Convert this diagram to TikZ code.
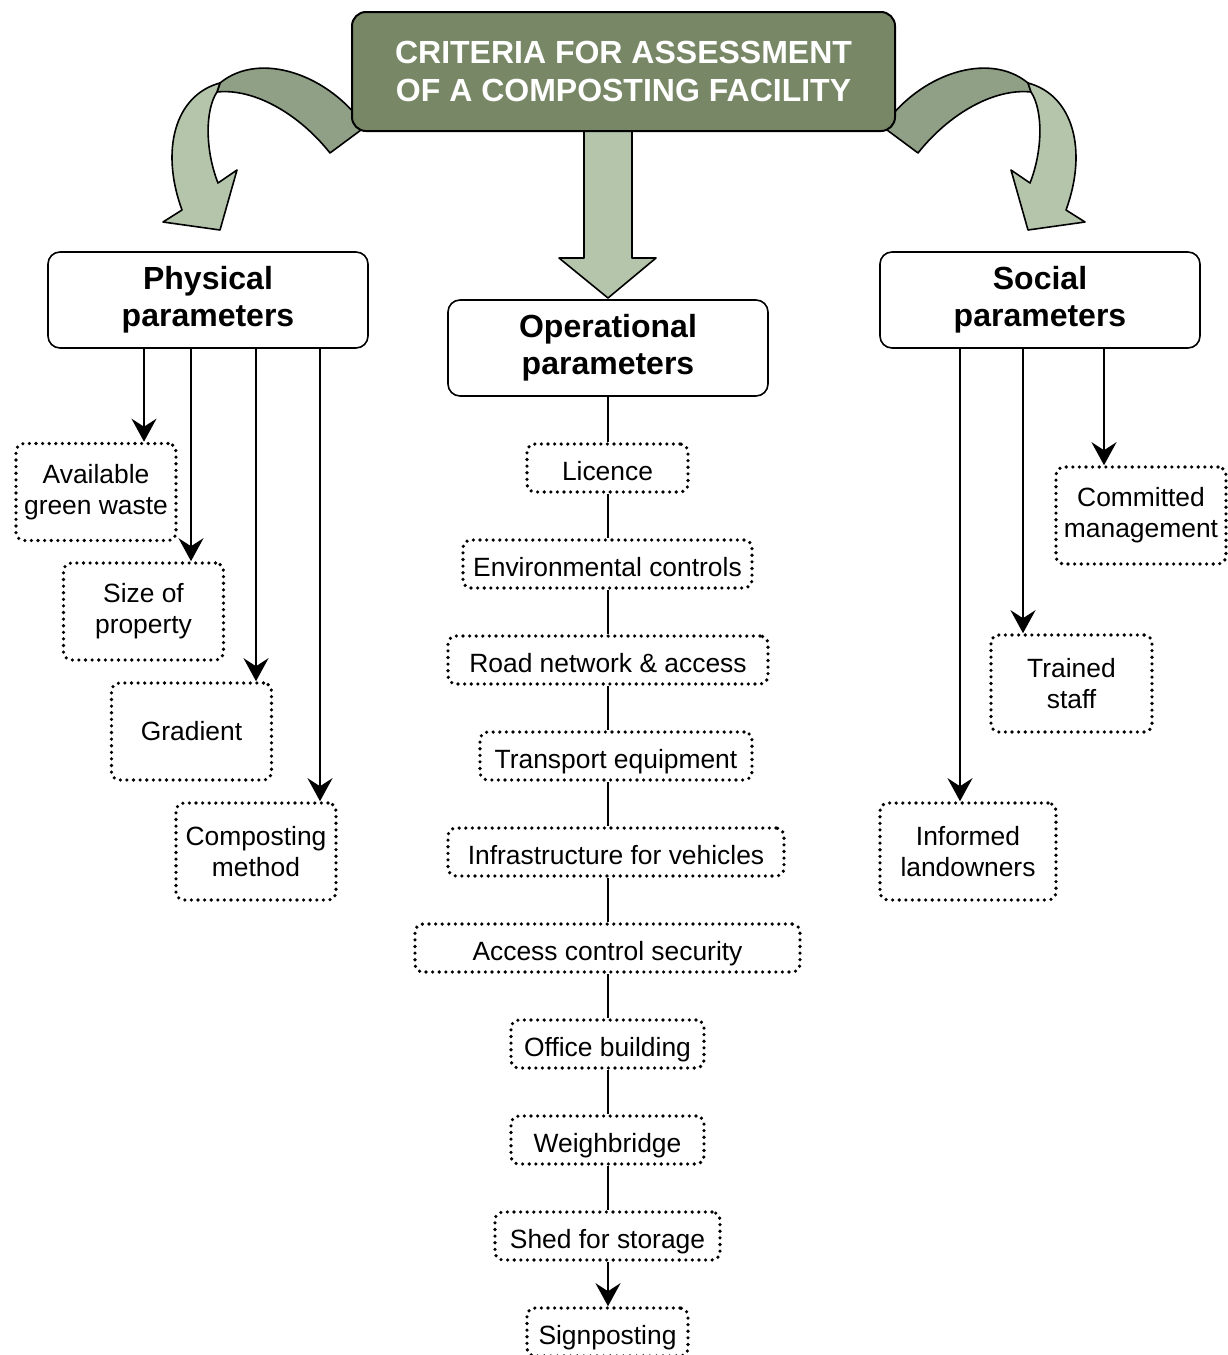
\documentclass[tikz,border=0pt]{standalone}
\usepackage{fontspec}
\setmainfont{Liberation Sans}
\usetikzlibrary{arrows.meta}
\definecolor{titlegreen}{RGB}{120,136,103}
\definecolor{darkband}{RGB}{143,160,134}
\definecolor{lightband}{RGB}{180,197,171}
\tikzset{
  titlebox/.style={draw, line width=1pt, fill=titlegreen, rounded corners=7pt, text=white,
    font=\bfseries\fontsize{16}{19}\selectfont, align=center, inner sep=0pt,
    minimum width=271.5pt, minimum height=59.5pt},
  headbox/.style={draw, line width=0.8pt, fill=white, rounded corners=6pt,
    font=\bfseries\fontsize{16}{18.5}\selectfont, align=center, inner sep=0pt,
    minimum width=160pt, minimum height=48pt},
  itembox/.style={draw, line width=1.8pt, line cap=round, dash pattern=on 0pt off 3.3pt,
    rounded corners=4pt, font=\fontsize{13.2}{15.5}\selectfont, align=center, inner sep=0pt,
    minimum height=48.5pt},
  opbox/.style={itembox, minimum height=24pt, text height=12.5pt, text depth=0pt},
  arr/.style={line width=1pt, -{Stealth[length=11.5pt, width=12.5pt, inset=4pt]}},
  link/.style={line width=1pt},
  bandline/.style={draw=black, line width=0.8pt, line join=round}
}
\newcommand{\curvedarrow}{%
  \path[bandline, fill=darkband] (365,127) .. controls (330,75) and (260,50) .. (220,83)
     -- (217,92) .. controls (255,88) and (300,115) .. (330,153) -- cycle;
  \path[bandline, fill=lightband] (220,83) .. controls (175,95) and (160,150) .. (182,210)
     -- (163,222) -- (220,230) -- (237,170) -- (218,183)
     .. controls (205,150) and (205,110) .. (217,92) -- cycle;
}
\begin{document}
\begin{tikzpicture}[x=0.5pt, y=-0.5pt]
\useasboundingbox (0,0) rectangle (1227,1355);
% curved arrows
\curvedarrow
\begin{scope}[xshift=624pt, xscale=-1]
\curvedarrow
\end{scope}
% central big arrow
\path[bandline, fill=lightband] (584,125) -- (584,258) -- (559,258) -- (608,298) -- (656,258) -- (632,258) -- (632,125) -- cycle;
% title
\node[titlebox] (title) at (623.5,71.5) {CRITERIA FOR ASSESSMENT\\OF A COMPOSTING FACILITY};
% heads
\node[headbox] (phys) at (208,300) {Physical\\parameters};
\node[headbox] (ops) at (608,348) {Operational\\parameters};
\node[headbox] (soc) at (1040,300) {Social\\parameters};
% physical items
\node[itembox, minimum width=80pt] (avail) at (96,492) {Available\\green waste};
\node[itembox, minimum width=80pt] (size) at (143.5,611.5) {Size of\\property};
\node[itembox, minimum width=80pt] (grad) at (191.5,731.5) {Gradient};
\node[itembox, minimum width=80pt] (comp) at (256,851.5) {Composting\\method};
% social items
\node[itembox, minimum width=85pt] (commit) at (1141,515.5) {Committed\\management};
\node[itembox, minimum width=80.5pt] (trained) at (1071.5,683.5) {Trained\\staff};
\node[itembox, minimum width=88pt] (informed) at (968,851.5) {Informed\\landowners};
% operational items
\node[opbox, minimum width=80.5pt] (lic) at (607.5,468) {Licence};
\node[opbox, minimum width=144.5pt] (env) at (607.5,564) {Environmental controls};
\node[opbox, minimum width=160pt] (road) at (608,660) {Road network \& access};
\node[opbox, minimum width=136pt] (trans) at (616,756) {Transport equipment};
\node[opbox, minimum width=168pt] (infra) at (616,852) {Infrastructure for vehicles};
\node[opbox, minimum width=192.5pt] (acc) at (607.5,948) {Access control security};
\node[opbox, minimum width=96.5pt] (office) at (607.5,1044) {Office building};
\node[opbox, minimum width=96.5pt] (weigh) at (607.5,1140) {Weighbridge};
\node[opbox, minimum width=112.5pt] (shed) at (607.5,1236) {Shed for storage};
\node[opbox, minimum width=80.5pt] (sign) at (607.5,1332) {Signposting};
% operational chain
\draw[link] (ops.south) -- (lic.north -| ops.south);
\draw[link] (lic.south -| ops.south) -- (env.north -| ops.south);
\draw[link] (env.south -| ops.south) -- (road.north -| ops.south);
\draw[link] (road.south -| ops.south) -- (trans.north -| ops.south);
\draw[link] (trans.south -| ops.south) -- (infra.north -| ops.south);
\draw[link] (infra.south -| ops.south) -- (acc.north -| ops.south);
\draw[link] (acc.south -| ops.south) -- (office.north -| ops.south);
\draw[link] (office.south -| ops.south) -- (weigh.north -| ops.south);
\draw[link] (weigh.south -| ops.south) -- (shed.north -| ops.south);
\draw[arr] (shed.south -| ops.south) -- (sign.north -| ops.south);
% physical arrows
\coordinate (p1) at (144,348);
\coordinate (p2) at (191,348);
\coordinate (p3) at (256,348);
\coordinate (p4) at (320,348);
\draw[arr] (p1) -- (p1 |- avail.north);
\draw[arr] (p2) -- (p2 |- size.north);
\draw[arr] (p3) -- (p3 |- grad.north);
\draw[arr] (p4) -- (p4 |- comp.north);
% social arrows
\coordinate (s1) at (1104,348);
\coordinate (s2) at (1023,348);
\coordinate (s3) at (960,348);
\draw[arr] (s1) -- (s1 |- commit.north);
\draw[arr] (s2) -- (s2 |- trained.north);
\draw[arr] (s3) -- (s3 |- informed.north);
\end{tikzpicture}
\end{document}
